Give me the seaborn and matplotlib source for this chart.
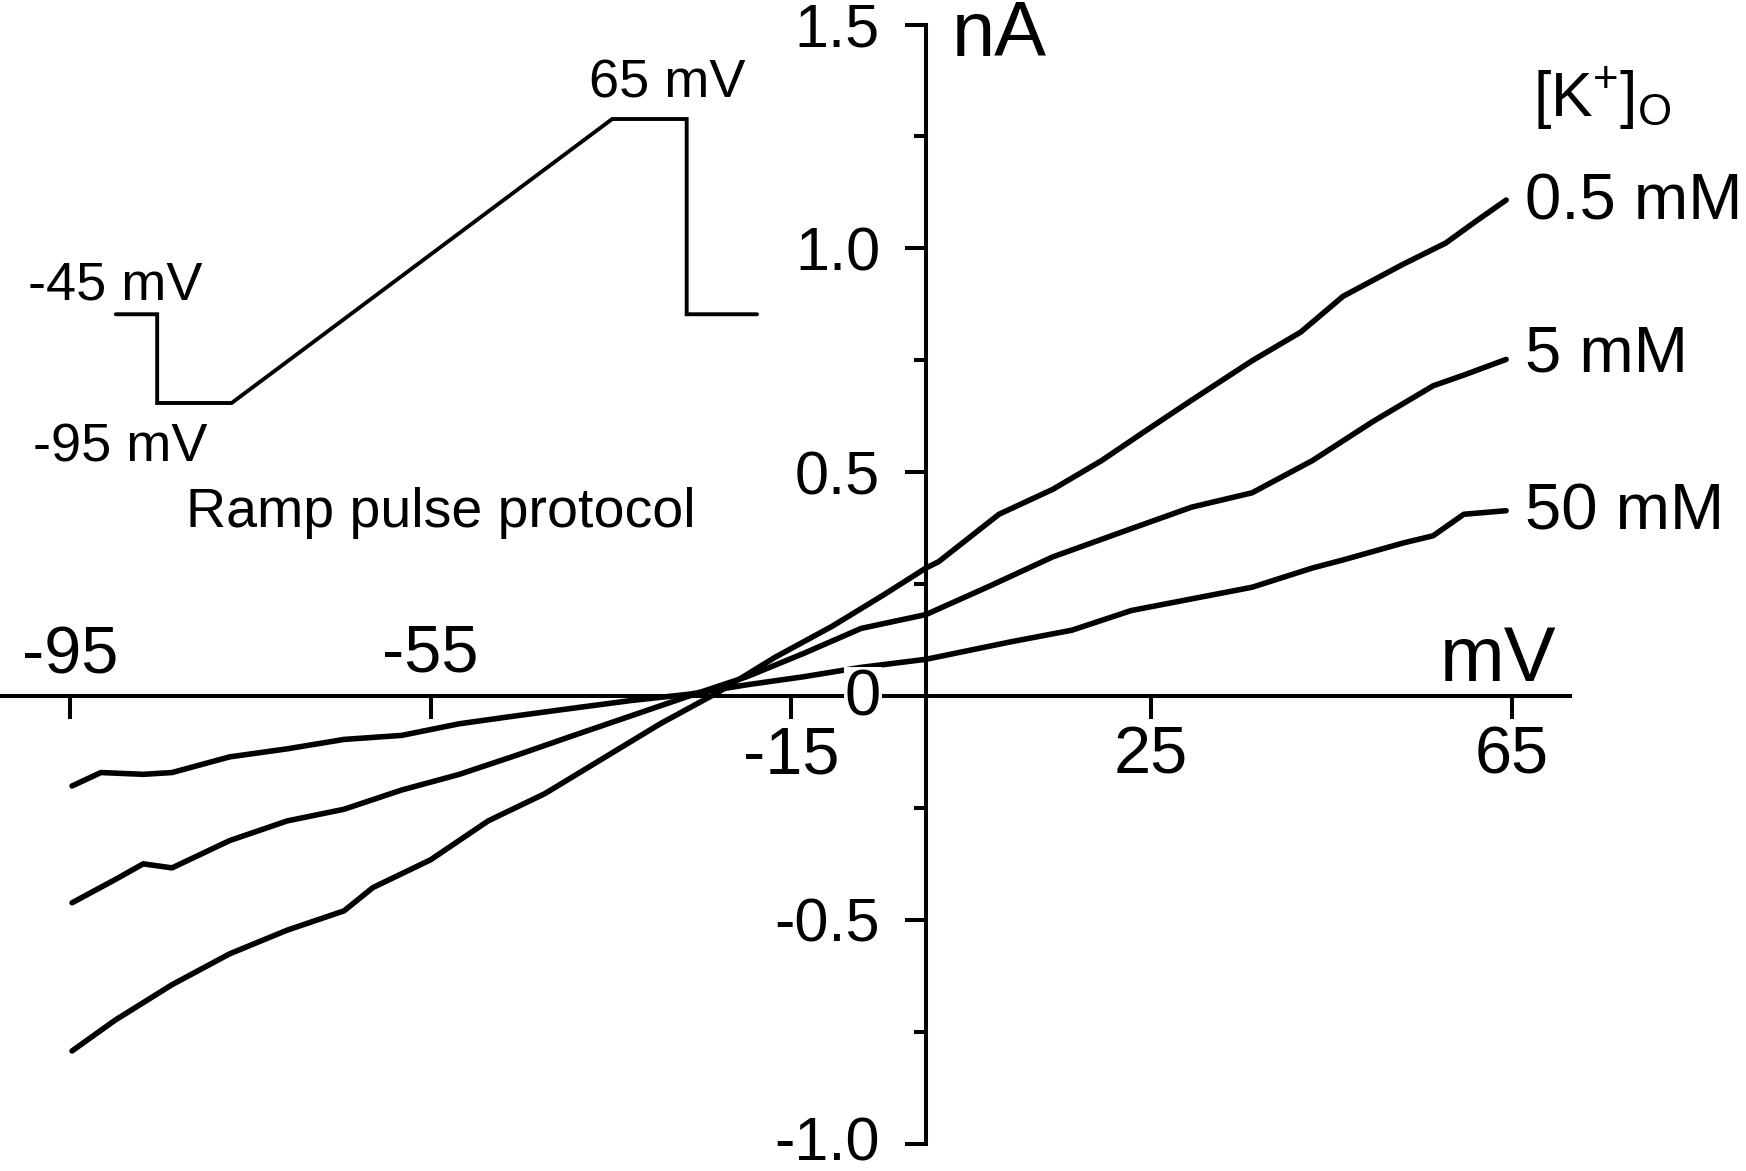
import numpy as np
import pandas as pd
import matplotlib
matplotlib.use("Agg")
import matplotlib.pyplot as plt
import seaborn as sns
from matplotlib import transforms

# ---------------- data ----------------
v_05 = [-94.8, -90.0, -83.7, -77.3, -70.9, -64.6, -61.4, -55.0, -48.6, -42.3, -35.9,
        -29.5, -23.1, -16.8, -10.4, -4.7, 0.0, 1.4, 8.1, 14.1, 19.5, 24.2, 29.5, 36.2,
        41.6, 46.3, 53.0, 57.7, 61.0, 64.4]
i_05 = [-0.793, -0.724, -0.645, -0.576, -0.523, -0.480, -0.428, -0.366, -0.279, -0.218,
        -0.140, -0.062, 0.008, 0.086, 0.156, 0.226, 0.286, 0.300, 0.406, 0.462, 0.526,
        0.590, 0.661, 0.749, 0.813, 0.893, 0.965, 1.012, 1.060, 1.108]

v_5 = [-94.8, -90.0, -86.9, -83.7, -77.3, -70.9, -64.6, -58.2, -51.8, -45.4, -39.1,
       -32.7, -26.3, -19.9, -13.6, -7.2, 0.0, 7.0, 14.1, 22.8, 29.5, 36.2, 42.9, 49.6,
       56.3, 59.7, 64.4]
i_5 = [-0.462, -0.410, -0.375, -0.384, -0.323, -0.279, -0.253, -0.210, -0.175, -0.132,
       -0.088, -0.044, 0.000, 0.043, 0.095, 0.151, 0.182, 0.245, 0.311, 0.374, 0.422,
       0.454, 0.526, 0.613, 0.693, 0.717, 0.752]

v_50 = [-94.8, -91.6, -86.9, -83.7, -77.3, -70.9, -64.6, -58.2, -51.8, -45.4, -39.1,
        -32.7, -26.3, -19.9, -13.6, -7.2, 0.0, 9.4, 16.2, 22.8, 29.5, 36.2, 42.9, 46.3,
        53.0, 56.3, 59.7, 64.4]
i_50 = [-0.201, -0.171, -0.175, -0.171, -0.136, -0.118, -0.097, -0.088, -0.062, -0.044,
        -0.027, -0.010, 0.004, 0.025, 0.043, 0.064, 0.082, 0.121, 0.147, 0.191, 0.217,
        0.243, 0.286, 0.304, 0.342, 0.358, 0.406, 0.414]

conc_labels = ["0.5 mM", "5 mM", "50 mM"]

x_ticks = [-95, -55, -15, 25, 65]
x_tick_labels = ["-95", "-55", "-15", "25", "65"]
y_ticks = [-1.0, -0.5, 0.5, 1.0, 1.5]
y_tick_labels = ["-1.0", "-0.5", "0.5", "1.0", "1.5"]
y_minor = [-0.75, -0.25, 0.25, 0.75, 1.25]

# ramp pulse protocol (inset)
prot_time = [0, 50, 50, 140, 600, 690, 690, 775]
prot_mv = [-45, -45, -95, -95, 65, 65, -45, -45]

# ---------------- styling ----------------
sns.set_theme(style="white")
plt.rcParams["font.family"] = ["Liberation Sans", "DejaVu Sans"]
plt.rcParams["axes.unicode_minus"] = False
plt.rcParams["mathtext.fontset"] = "custom"
plt.rcParams["mathtext.rm"] = "Liberation Sans"
plt.rcParams["mathtext.it"] = "Liberation Sans"
plt.rcParams["text.color"] = "black"
plt.rcParams["xtick.color"] = "black"
plt.rcParams["ytick.color"] = "black"

W, H = 1746, 1171
fig = plt.figure(figsize=(W / 100, H / 100), dpi=100)
fig.patch.set_facecolor("white")

# pixel mapping: x_px = 926 + 9.008*V ; y_px = 696 - 447.6*I
XS, X0 = 9.008, 926.0
YS, Y0 = 447.6, 696.0
ax = fig.add_axes([0, 0, 1, 1])
ax.set_facecolor("none")
ax.set_xlim((0 - X0) / XS, (W - X0) / XS)
ax.set_ylim((Y0 - H) / YS, Y0 / YS)

df = pd.concat([
    pd.DataFrame({"mV": v_05, "nA": i_05, "K": conc_labels[0]}),
    pd.DataFrame({"mV": v_5, "nA": i_5, "K": conc_labels[1]}),
    pd.DataFrame({"mV": v_50, "nA": i_50, "K": conc_labels[2]}),
])
sns.lineplot(data=df, x="mV", y="nA", hue="K", palette=["black"] * 3,
             estimator=None, legend=False, linewidth=4.0, ax=ax)
ax.set_xlabel("")
ax.set_ylabel("")

for s in ["top", "right"]:
    ax.spines[s].set_visible(False)
for s in ["left", "bottom"]:
    ax.spines[s].set_visible(True)
    ax.spines[s].set_color("black")
    ax.spines[s].set_linewidth(2.9)
ax.spines["left"].set_position(("data", 0))
ax.spines["bottom"].set_position(("data", 0))
ax.spines["bottom"].set_bounds((0 - X0) / XS, (1570 - X0) / XS)
ax.spines["left"].set_bounds(-1.0, 1.5)

ax.set_xticks(x_ticks)
ax.set_xticklabels([""] * len(x_ticks))
ax.set_yticks(y_ticks)
ax.set_yticklabels([""] * len(y_ticks))
ax.set_yticks(y_minor, minor=True)
ax.tick_params(axis="x", which="major", direction="out", length=16.5, width=2.9,
               color="black", bottom=True)
ax.tick_params(axis="y", which="major", direction="out", length=15, width=2.9,
               color="black", left=True)
ax.tick_params(axis="y", which="minor", direction="out", length=9, width=2.9,
               color="black", left=True)
ax.grid(False)

def fx(px):
    return px / W

def fy(py):
    return 1 - py / H

# y tick labels (right-aligned left of the axis)
bty = transforms.blended_transform_factory(fig.transFigure, ax.transData)
for v, lab in zip(y_ticks, y_tick_labels):
    yv = v + (5 / YS if v == -1.0 else 0)
    ax.text(fx(880), yv, lab, transform=bty, ha="right", va="center_baseline", fontsize=44)

# x tick labels (some above, some below the axis)
bt = transforms.blended_transform_factory(ax.transData, fig.transFigure)
label_y = [656, 654, 757, 756, 756]
for v, lab, py in zip(x_ticks, x_tick_labels, label_y):
    ax.text(v, fy(py), lab, transform=bt, ha="center", va="center", fontsize=48)

# origin "0" label with white background
fig.text(fx(863), fy(698), "0", ha="center", va="center", fontsize=47,
         bbox=dict(facecolor="white", edgecolor="none", pad=1))

# axis unit labels
fig.text(fx(1440), fy(681), "mV", ha="left", va="baseline", fontsize=56)
fig.text(fx(952), fy(56), "nA", ha="left", va="baseline", fontsize=56)

# concentration labels
fig.text(fx(1533), fy(117), r"[K$^{+}$]$_{\mathrm{O}}$", ha="left", va="baseline", fontsize=45)
for lab, py in zip(conc_labels, [220, 372, 530]):
    fig.text(fx(1525), fy(py), lab, ha="left", va="baseline", fontsize=47)

# ---------------- inset: ramp pulse protocol ----------------
ins = fig.add_axes([115.8 / W, 1 - 403 / H, 641.2 / W, 284 / H])
ins.set_xlim(0, 775)
ins.set_ylim(-95, 65)
ins.axis("off")
ins.set_facecolor("none")
pdf = pd.DataFrame({"t": prot_time, "v": prot_mv})
sns.lineplot(data=pdf, x="t", y="v", sort=False, estimator=None, color="black",
             linewidth=2.8, ax=ins)
for ln in ins.lines:
    ln.set_clip_on(False)
    ln.set_solid_joinstyle("miter")

fig.text(fx(28), fy(300), "-45 mV", ha="left", va="baseline", fontsize=39)
fig.text(fx(33), fy(461), "-95 mV", ha="left", va="baseline", fontsize=39)
fig.text(fx(589), fy(98), "65 mV", ha="left", va="baseline", fontsize=39)
fig.text(fx(186), fy(527), "Ramp pulse protocol", ha="left", va="baseline", fontsize=40)

fig.savefig("out.png", dpi=100, facecolor="white")
